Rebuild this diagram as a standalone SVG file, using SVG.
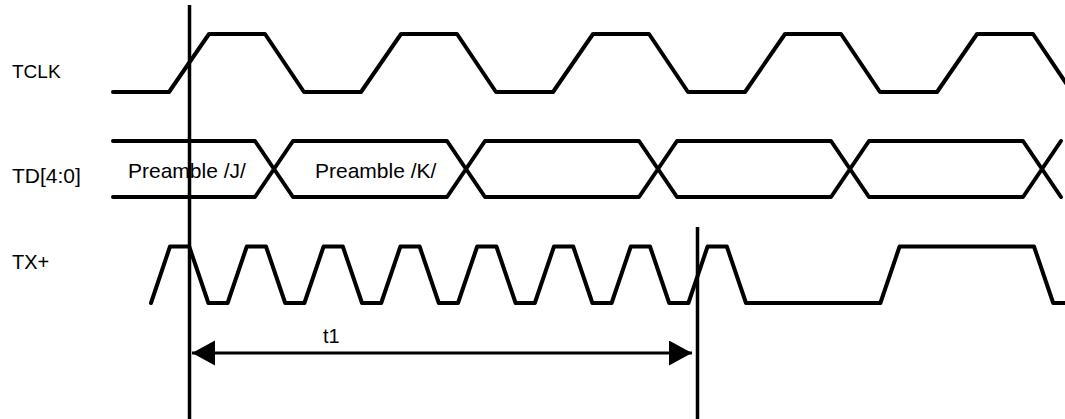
<svg xmlns="http://www.w3.org/2000/svg" width="1065" height="419" viewBox="0 0 1065 419">
<style>
.sig{fill:none;stroke:#000;stroke-width:4;stroke-linejoin:round;stroke-linecap:round}
.vl{stroke:#000;stroke-width:3.5}
.lbl{font-family:"Liberation Sans",Arial,sans-serif;font-size:20px;fill:#000}
.big{font-size:21px}
.sm{font-size:19px}
</style>
<defs>
<marker id="ah" markerUnits="userSpaceOnUse" markerWidth="24" markerHeight="26" refX="23" refY="12.5" orient="auto-start-reverse" viewBox="0 0 24 26">
<path d="M0,0 L23,12.5 L0,25 Z" fill="#000"/>
</marker>
</defs>
<rect width="1065" height="419" fill="#fff"/>
<g id="tclk">
<text class="lbl sm" x="12" y="78">TCLK</text>
<path class="sig" d="M113,92 L169,92 L209,34 L265,34 L304,92 L361,92 L401,34 L457,34 L496,92 L553,92 L593,34 L649,34 L688,92 L745,92 L785,34 L841,34 L880,92 L937,92 L977,34 L1033,34 L1072,92"/>
</g>
<g id="td">
<text class="lbl big" x="12" y="183">TD[4:0]</text>
<path class="sig" d="M113,141 L255,141 L274,169 L255,197 L113,197"/>
<path class="sig" d="M274,169 L293,141 L447,141 L466,169 L447,197 L293,197 Z"/>
<path class="sig" d="M466,169 L485,141 L639,141 L658,169 L639,197 L485,197 Z"/>
<path class="sig" d="M658,169 L677,141 L831,141 L850,169 L831,197 L677,197 Z"/>
<path class="sig" d="M850,169 L869,141 L1023,141 L1042,169 L1023,197 L869,197 Z"/>
<path class="sig" d="M1061,141 L1042,169 L1061,197"/>
<text class="lbl big" x="128" y="178">Preamble /J/</text>
<text class="lbl big" x="315" y="178">Preamble /K/</text>
</g>
<g id="txp">
<text class="lbl" x="12" y="269">TX+</text>
<path class="sig" d="M151,303 L170,246.5 L189.2,246.5 L208.4,303 L227.6,303 L246.8,246.5 L266,246.5 L285.2,303 L304.4,303 L323.6,246.5 L342.8,246.5 L362,303 L381.2,303 L400.4,246.5 L419.6,246.5 L438.8,303 L458,303 L477.2,246.5 L496.4,246.5 L515.6,303 L534.8,303 L554,246.5 L573.2,246.5 L592.4,303 L611.6,303 L630.8,246.5 L650,246.5 L669.2,303 L688.4,303 L707.6,246.5 L726.8,246.5 L746,303 L880.4,303 L899.6,246.5 L1034,246.5 L1053.2,303 L1068,303"/>
</g>
<g id="connectors">
<line class="vl" x1="189.5" y1="5" x2="189.5" y2="419"/>
<line class="vl" x1="697.5" y1="227" x2="697.5" y2="419"/>
<line x1="192" y1="353" x2="692" y2="353" stroke="#000" stroke-width="3" marker-start="url(#ah)" marker-end="url(#ah)"/>
<text class="lbl" x="323" y="343">t1</text>
</g>
</svg>
